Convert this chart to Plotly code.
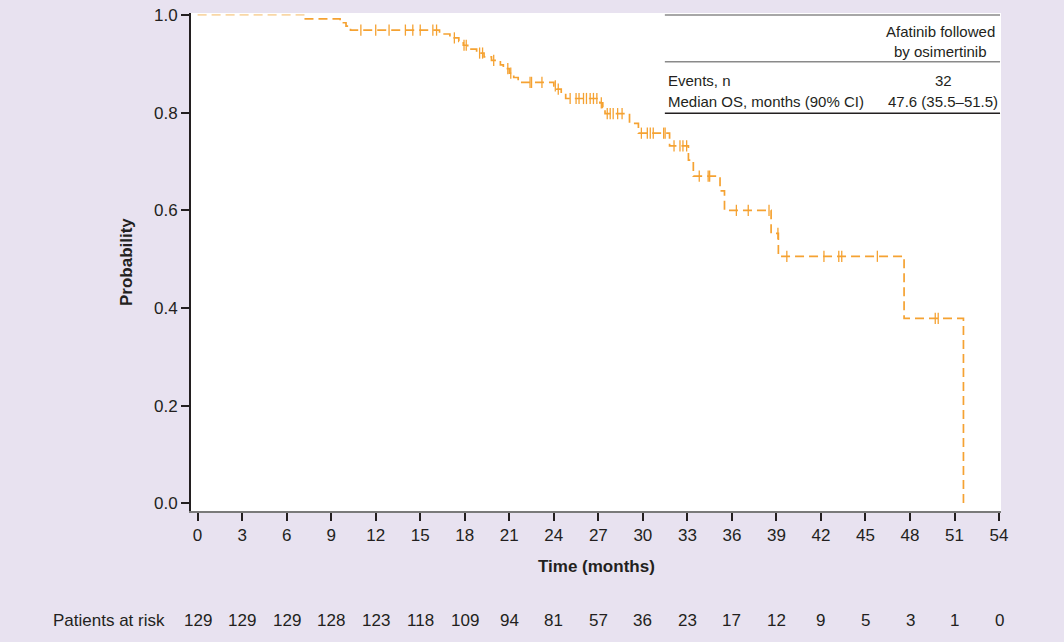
import numpy as np
import plotly.graph_objects as go

# ---- data ----
step_times = [0, 7.2, 9.6, 10.0, 10.3, 16.3, 17.0, 17.6, 17.9, 18.2, 18.8, 19.3, 19.8,
              20.4, 20.6, 21.0, 21.3, 21.6, 24.0, 24.2, 24.5, 24.8, 27.1, 27.3, 27.45,
              29.1, 29.7, 31.8, 33.07, 33.4, 35.2, 35.5, 38.64, 39.13, 47.6, 51.6]
step_surv = [1.0, 0.992, 0.984, 0.977, 0.969, 0.961, 0.953, 0.946, 0.938, 0.930, 0.922,
             0.914, 0.907, 0.898, 0.890, 0.881, 0.872, 0.862, 0.855, 0.848, 0.840, 0.829,
             0.820, 0.811, 0.798, 0.778, 0.758, 0.732, 0.703, 0.670, 0.640, 0.600, 0.553,
             0.506, 0.379, 0.0]
censor_times = [11.0, 12.0, 12.9, 14.0, 14.5, 15.0, 15.85, 16.1,
                17.3, 17.95, 18.1, 19.0, 19.2, 19.95, 20.9, 21.1,
                22.4, 22.5, 23.2, 24.1, 24.3,
                25.1, 25.5, 25.7, 26.0, 26.2, 26.45, 26.67, 26.9, 27.2,
                27.6, 27.8, 28.0, 28.3, 28.6,
                29.9, 30.3, 30.5, 30.7, 31.4, 31.5,
                32.1, 32.5, 32.7, 32.95,
                33.8, 34.4, 34.5,
                36.3, 37.1, 38.5,
                39.1, 39.7, 42.2, 43.2, 43.4, 45.8,
                49.7, 49.9]
x_ticks = list(range(0, 55, 3))
at_risk = [129, 129, 129, 128, 123, 118, 109, 94, 81, 57, 36, 23, 17, 12, 9, 5, 3, 1, 0]

table_header = ["Afatinib followed", "by osimertinib"]
table_rows = [("Events, n", "32"), ("Median OS, months (90% CI)", "47.6 (35.5–51.5)")]

# ---- figure ----
ORANGE = "#F5A232"
LIGHT = "#F9D7A6"
TXT = "#231F20"
FONT = "Liberation Sans, Arial, sans-serif"

st = np.array(step_times)
ss = np.array(step_surv)
idx = np.searchsorted(st, np.array(censor_times), side="right") - 1
censor_surv = ss[idx]

fig = go.Figure()
fig.add_trace(go.Scatter(x=st[:2], y=[ss[0], ss[0]], mode="lines",
                         line=dict(color=LIGHT, width=1.7, dash="9px,5px"),
                         hoverinfo="skip", showlegend=False))
fig.add_trace(go.Scatter(x=st[1:], y=ss[1:], mode="lines", line_shape="hv",
                         line=dict(color=ORANGE, width=1.7, dash="9px,5px"),
                         showlegend=False))
fig.add_trace(go.Scatter(x=censor_times, y=censor_surv, mode="markers",
                         marker=dict(symbol="line-ns-open", size=8, color=ORANGE,
                                     line=dict(color=ORANGE, width=1.3)),
                         showlegend=False))

fig.update_xaxes(range=[-0.445, 54.13], tickvals=x_ticks, ticktext=[str(v) for v in x_ticks],
                 ticks="outside", ticklen=8, tickwidth=2, tickcolor=TXT,
                 showline=True, linecolor="#7a7a7a", linewidth=1.5,
                 showgrid=False, zeroline=False, automargin=False,
                 tickfont=dict(family=FONT, size=17, color=TXT))
fig.update_yaxes(range=[-0.0154, 1.004], tickvals=[0, 0.2, 0.4, 0.6, 0.8, 1.0],
                 tickformat=".1f",
                 ticks="outside", ticklen=8, tickwidth=2, tickcolor=TXT,
                 showline=True, linecolor=TXT, linewidth=2,
                 showgrid=False, zeroline=False, automargin=False,
                 tickfont=dict(family=FONT, size=17, color=TXT))


def txt(text, x, y, xref="paper", xanchor="center", size=17, **kw):
    return dict(text=text, x=x, y=y, xref=xref, yref="paper", xanchor=xanchor,
                yanchor="middle", showarrow=False,
                font=dict(family=FONT, size=size, color=TXT), **kw)


ann = [
    txt("<b>Time (months)</b>", 0.5, -0.1124),
    txt("<b>Probability</b>", -0.0802, 0.5, textangle=-90),
    txt("Patients at risk", -0.0296, -0.219, xanchor="right"),
]
for xv, n in zip(x_ticks, at_risk):
    ann.append(txt(str(n), xv, -0.219, xref="x"))

# table
tx0, tx1 = 0.585, 0.9988
col2 = 0.9247
ann.append(txt(table_header[0], col2, 0.962, size=15))
ann.append(txt(table_header[1], col2, 0.922, size=15))
row_y = [0.865, 0.8215]
for (lab, val), yv in zip(table_rows, row_y):
    ann.append(txt(lab, tx0 + 0.002, yv, xanchor="left", size=15))
    ann.append(txt(val, col2 + 0.004, yv, size=15))

shapes = [
    dict(type="line", xref="paper", yref="paper", x0=tx0, x1=tx1, y0=0.996, y1=0.996,
         line=dict(color="#8a8a8a", width=1.5)),
    dict(type="line", xref="paper", yref="paper", x0=tx0, x1=tx1, y0=0.9022, y1=0.9022,
         line=dict(color="#8a8a8a", width=1.5)),
    dict(type="line", xref="paper", yref="paper", x0=tx0, x1=tx1, y0=0.7986, y1=0.7986,
         line=dict(color=TXT, width=1.5)),
]

fig.update_layout(width=1064, height=642, autosize=False,
                  margin=dict(l=191, r=63, t=13, b=131, pad=0),
                  paper_bgcolor="#E8E2F0", plot_bgcolor="white",
                  annotations=ann, shapes=shapes, showlegend=False,
                  font=dict(family=FONT, color=TXT))
fig.write_html("out.html", config={"displayModeBar": False},
               post_script="document.body.style.margin='0px';document.body.style.padding='0px';"
                           "document.body.style.background='#E8E2F0';")
